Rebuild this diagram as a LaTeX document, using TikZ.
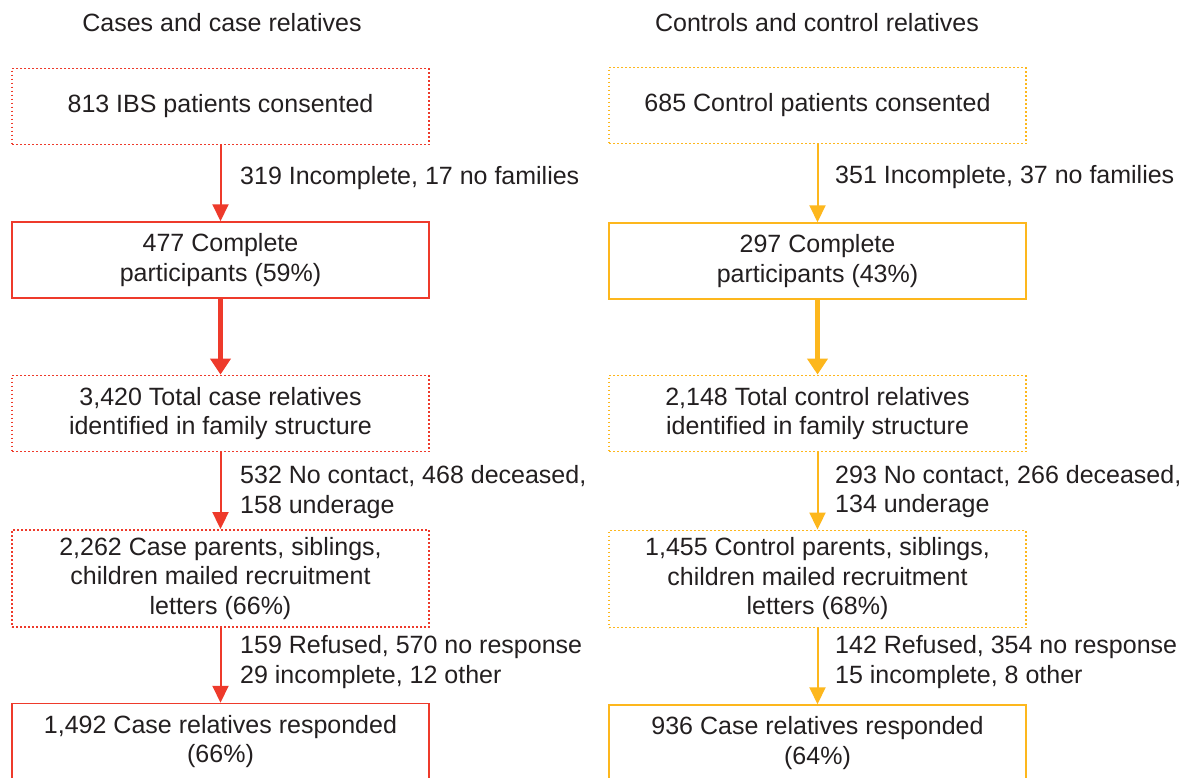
\documentclass[tikz,border=0pt]{standalone}
\usepackage{fontspec}
\setmainfont{Liberation Sans}
\usetikzlibrary{arrows.meta}
\definecolor{casered}{HTML}{EE3A2B}
\definecolor{ctrlorange}{HTML}{FDB71D}
\definecolor{txt}{HTML}{231F20}
\tikzset{
  box/.style={draw, line width=1.5pt, minimum width=417pt, minimum height=76pt, inner sep=0pt,
    align=center, text=txt, font=\fontsize{25}{29.5}\selectfont},
  dotbox/.style={box, line width=1.9pt, dash pattern=on 1.9pt off 2.1pt},
  lbl/.style={anchor=west, align=left, text=txt, inner sep=0pt, font=\fontsize{25}{29.5}\selectfont},
  ttl/.style={text=txt, inner sep=0pt, font=\fontsize{25}{29.5}\selectfont},
  flowarr/.style={line width=2pt, -{Triangle[width=16pt,length=17pt]}},
  bigarr/.style={line width=5.5pt, -{Triangle[width=20pt,length=16pt]}},
  redc/.style={draw=casered, fill=casered},
  orac/.style={draw=ctrlorange, fill=ctrlorange}
}
\begin{document}
\begin{tikzpicture}[x=1pt,y=-1pt]
\useasboundingbox (0,0) rectangle (1190,777);
\clip (0,0) rectangle (1190,777);
\fill[white] (0,0) rectangle (1190,777);

% titles
\node[ttl] (tl) at (222,23) {Cases and case relatives};
\node[ttl] (tr) at (817,23) {Controls and control relatives};

% left column
\node[dotbox, draw=casered] (l1) at (220.5,106.5) {813 IBS patients consented};
\node[box, draw=casered] (l2) at (220.5,260) {477 Complete\\participants (59\%)};
\node[dotbox, draw=casered] (l3) at (220.5,413.5) {3,420 Total case relatives\\identified in family structure};
\node[dotbox, draw=casered, minimum height=97pt] (l4) at (220.5,578.5) {2,262 Case parents, siblings,\\children mailed recruitment\\letters (66\%)};
\node[box, draw=casered] (l5) at (220.5,741.5) {1,492 Case relatives responded\\(66\%)};

\draw[flowarr, redc] (l1) -- (l2);
\draw[bigarr, redc] (l2) -- (l3);
\draw[flowarr, redc] (l3) -- (l4);
\draw[flowarr, redc] (l4) -- (l5);

\node[lbl] (la) at (240,178) {319 Incomplete, 17 no families};
\node[lbl] (lb) at (240,492) {532 No contact, 468 deceased,\\158 underage};
\node[lbl] (lc) at (240,662) {159 Refused, 570 no response\\29 incomplete, 12 other};

% right column
\node[dotbox, draw=ctrlorange] (r1) at (817.5,105.5) {685 Control patients consented};
\node[box, draw=ctrlorange] (r2) at (817.5,261) {297 Complete\\participants (43\%)};
\node[dotbox, draw=ctrlorange] (r3) at (817.5,413.5) {2,148 Total control relatives\\identified in family structure};
\node[dotbox, draw=ctrlorange, minimum height=97pt] (r4) at (817.5,579) {1,455 Control parents, siblings,\\children mailed recruitment\\letters (68\%)};
\node[box, draw=ctrlorange] (r5) at (817.5,743) {936 Case relatives responded\\(64\%)};

\draw[flowarr, orac] (r1) -- (r2);
\draw[bigarr, orac] (r2) -- (r3);
\draw[flowarr, orac] (r3) -- (r4);
\draw[flowarr, orac] (r4) -- (r5);

\node[lbl] (ra) at (835,177) {351 Incomplete, 37 no families};
\node[lbl] (rb) at (835,491.5) {293 No contact, 266 deceased,\\134 underage};
\node[lbl] (rc) at (835,662) {142 Refused, 354 no response\\15 incomplete, 8 other};
\end{tikzpicture}
\end{document}
